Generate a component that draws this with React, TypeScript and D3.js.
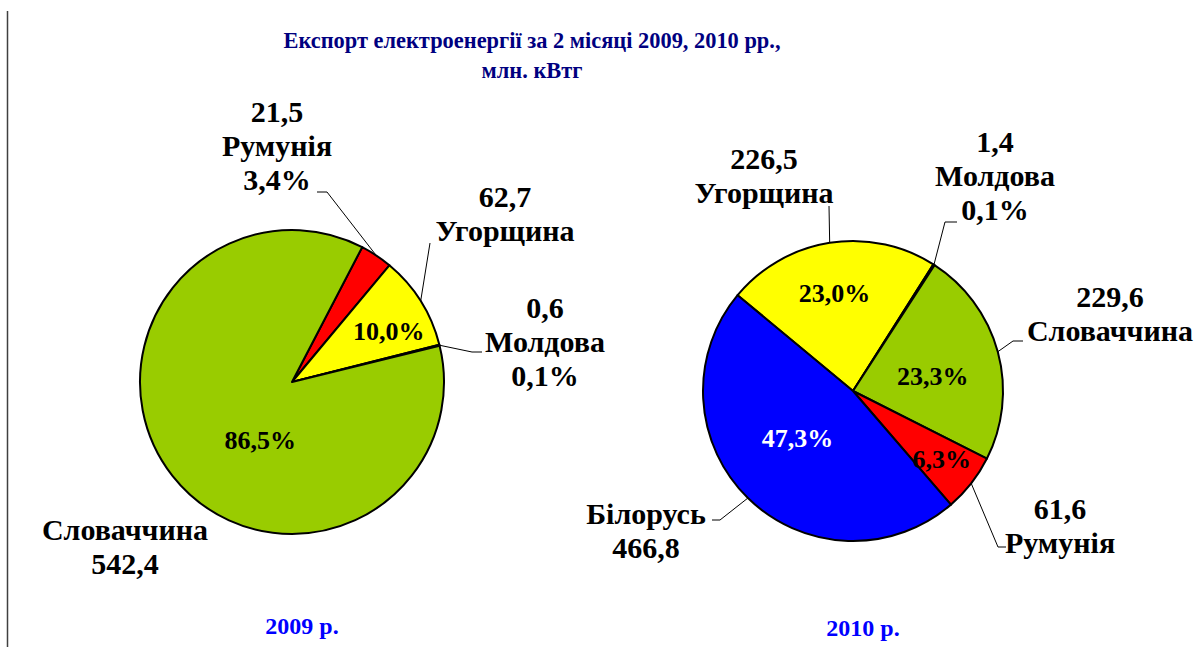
import React from "react";
import * as d3 from "d3";

// 2009 (Jan-Feb), mln kWh
const countries2009 = ["Румунія", "Угорщина", "Молдова", "Словаччина"];
const values2009 = [21.5, 62.7, 0.6, 542.4];
const shares2009 = ["3,4%", "10,0%", "0,1%", "86,5%"];

// 2010 (Jan-Feb), mln kWh
const countries2010 = ["Угорщина", "Молдова", "Словаччина", "Румунія", "Білорусь"];
const values2010 = [226.5, 1.4, 229.6, 61.6, 466.8];
const shares2010 = ["23,0%", "0,1%", "23,3%", "6,3%", "47,3%"];

const titleLines = ["Експорт електроенергії за 2 місяці 2009, 2010 рр.,", "млн. кВтг"];
const yearLabels = ["2009 р.", "2010 р."];

const COLORS: Record<string, string> = {
  "Словаччина": "#99CC00",
  "Румунія": "#FF0000",
  "Угорщина": "#FFFF00",
  "Молдова": "#99CC00",
  "Білорусь": "#0000FF",
};

const FONT = "Liberation Serif, DejaVu Serif, serif";
const LINE_H = 34;

const fmtVal = (v: number) => d3.format(".1f")(v).replace(".", ",");

type Lbl = {
  lines: string[]; // keys: v, n, p
  x: number;
  y: number;
  leader?: [number, number][];
  inR?: number;
  inOff?: [number, number];
  inColor?: string;
};

const layout2009: Lbl[] = [
  { lines: ["v", "n", "p"], x: 277, y: 122, leader: [[327, 192], [317, 192]] },
  { lines: ["v", "n"], x: 505, y: 207, leader: [[430, 243]], inR: 0.72, inOff: [4, 7] },
  { lines: ["v", "n", "p"], x: 545, y: 318, leader: [[472, 352], [482, 352]] },
  { lines: ["n", "v"], x: 125, y: 540, inR: 0.45, inOff: [22, 16] },
];

const layout2010: Lbl[] = [
  { lines: ["v", "n"], x: 764, y: 169, leader: [[829, 206]], inR: 0.66, inOff: [-3, 0] },
  { lines: ["v", "n", "p"], x: 995, y: 152, leader: [[945, 222], [957, 222]] },
  { lines: ["v", "n"], x: 1110, y: 307, leader: [[1013, 341], [1023, 341]], inR: 0.55, inOff: [0, 6] },
  { lines: ["v", "n"], x: 1060, y: 519, leader: [[998, 547], [1006, 547]], inR: 0.75, inOff: [0, -1] },
  { lines: ["n", "v"], x: 646, y: 524, leader: [[720, 520], [712, 520]], inR: 0.5, inOff: [-3, -7], inColor: "#FFFFFF" },
];

function Pie(props: {
  cx: number;
  cy: number;
  r: number;
  startDeg: number;
  names: string[];
  values: number[];
  shares: string[];
  layout: Lbl[];
}) {
  const { cx, cy, r, startDeg, names, values, shares, layout } = props;
  const start = (startDeg * Math.PI) / 180;
  const pie = d3
    .pie<number>()
    .sort(null)
    .startAngle(start)
    .endAngle(start + 2 * Math.PI);
  const arcs = pie(values);
  const arc = d3.arc<d3.PieArcDatum<number>>().innerRadius(0).outerRadius(r);

  return (
    <g transform={`translate(${cx},${cy})`}>
      {arcs.map((a, i) => (
        <path key={i} d={arc(a) || ""} fill={COLORS[names[i]]} stroke="#000" strokeWidth={2} strokeLinejoin="round" />
      ))}
      {arcs.map((a, i) => {
        const L = layout[i];
        const mid = (a.startAngle + a.endAngle) / 2;
        const sx = r * Math.sin(mid);
        const sy = -r * Math.cos(mid);
        const els: React.ReactNode[] = [];
        if (L.leader) {
          const pts: [number, number][] = [[sx, sy], ...L.leader.map(([x, y]) => [x - cx, y - cy] as [number, number])];
          els.push(
            <path key="ld" d={d3.line()(pts) || ""} fill="none" stroke="#000" strokeWidth={1} />
          );
        }
        L.lines.forEach((k, j) => {
          const txt = k === "v" ? fmtVal(values[i]) : k === "n" ? names[i] : shares[i];
          els.push(
            <text
              key={"t" + j}
              x={L.x - cx}
              y={L.y - cy + j * LINE_H}
              textAnchor="middle"
              fontFamily={FONT}
              fontWeight="bold"
              fontSize={30}
              fill="#000"
            >
              {txt}
            </text>
          );
        });
        if (L.inR) {
          const ir = r * L.inR;
          const off = L.inOff || [0, 0];
          els.push(
            <text
              key="in"
              x={ir * Math.sin(mid) + off[0]}
              y={-ir * Math.cos(mid) + off[1]}
              dy="0.35em"
              textAnchor="middle"
              fontFamily={FONT}
              fontWeight="bold"
              fontSize={26}
              fill={L.inColor || "#000"}
            >
              {shares[i]}
            </text>
          );
        }
        return <g key={"l" + i}>{els}</g>;
      })}
    </g>
  );
}

export default function App() {
  return (
    <svg
      width={1200}
      height={647}
      style={{ position: "absolute", left: 0, top: 0, background: "#fff" }}
    >
      <line x1={7.5} y1={11} x2={7.5} y2={647} stroke="#404040" strokeWidth={1.5} />
      {titleLines.map((t, i) => (
        <text
          key={i}
          x={532}
          y={48 + i * 30}
          textAnchor="middle"
          fontFamily={FONT}
          fontWeight="bold"
          fontSize={22.4}
          fill="#000080"
        >
          {t}
        </text>
      ))}
      <Pie
        cx={292}
        cy={382}
        r={152}
        startDeg={27.5}
        names={countries2009}
        values={values2009}
        shares={shares2009}
        layout={layout2009}
      />
      <Pie
        cx={853}
        cy={391}
        r={150}
        startDeg={-50.3}
        names={countries2010}
        values={values2010}
        shares={shares2010}
        layout={layout2010}
      />
      {yearLabels.map((t, i) => (
        <text
          key={t}
          x={[302, 863][i]}
          y={[634, 636][i]}
          textAnchor="middle"
          fontFamily={FONT}
          fontWeight="bold"
          fontSize={24}
          fill="#0000FF"
        >
          {t}
        </text>
      ))}
    </svg>
  );
}
